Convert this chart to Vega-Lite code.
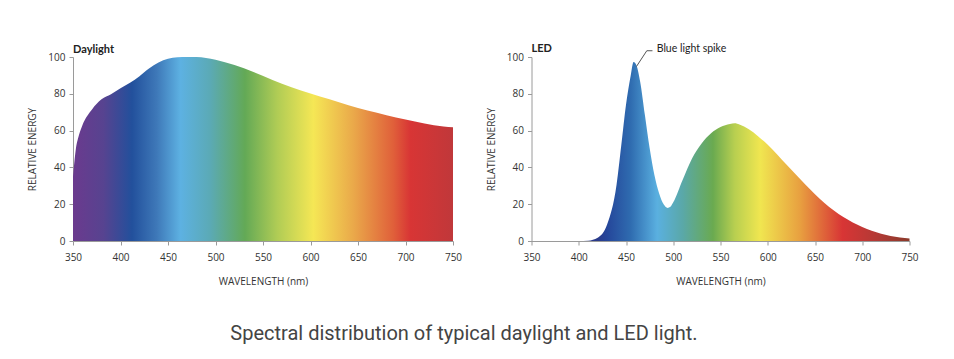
{
  "$schema": "https://vega.github.io/schema/vega-lite/v6.json",
  "background": "white",
  "padding": {"left": 27, "top": 42, "right": 5, "bottom": 5},
  "datasets": {
    "daylight": [
      {"w": 350, "v": 35}, {"w": 353, "v": 50}, {"w": 356, "v": 57}, {"w": 360, "v": 63}, {"w": 370, "v": 71.5},
      {"w": 380, "v": 77}, {"w": 390, "v": 79.8}, {"w": 400, "v": 83}, {"w": 410, "v": 86},
      {"w": 420, "v": 89.6}, {"w": 430, "v": 93.8}, {"w": 440, "v": 97}, {"w": 450, "v": 99},
      {"w": 460, "v": 99.8}, {"w": 470, "v": 100}, {"w": 480, "v": 100}, {"w": 490, "v": 99.5},
      {"w": 500, "v": 98.5}, {"w": 520, "v": 95.6}, {"w": 540, "v": 91.8}, {"w": 560, "v": 87.5},
      {"w": 580, "v": 83.6}, {"w": 600, "v": 80.2}, {"w": 620, "v": 77}, {"w": 640, "v": 73.8},
      {"w": 660, "v": 70.9}, {"w": 680, "v": 68.4}, {"w": 700, "v": 66}, {"w": 720, "v": 63.8},
      {"w": 740, "v": 62.2}, {"w": 750, "v": 61.8}
    ],
    "led": [
      {"w": 350, "v": 0}, {"w": 380, "v": 0}, {"w": 400, "v": 0}, {"w": 410, "v": 0.2},
      {"w": 420, "v": 1.8}, {"w": 430, "v": 9}, {"w": 440, "v": 30.6}, {"w": 445, "v": 52},
      {"w": 450, "v": 74}, {"w": 455, "v": 90}, {"w": 458, "v": 97.3}, {"w": 461, "v": 95.5},
      {"w": 465, "v": 86.5}, {"w": 470, "v": 68.5}, {"w": 475, "v": 50.5}, {"w": 480, "v": 36},
      {"w": 485, "v": 26}, {"w": 490, "v": 19.8}, {"w": 494, "v": 18}, {"w": 497, "v": 18.6},
      {"w": 500, "v": 21}, {"w": 510, "v": 33.3}, {"w": 520, "v": 45}, {"w": 530, "v": 53},
      {"w": 540, "v": 58.6}, {"w": 550, "v": 62}, {"w": 560, "v": 63.6}, {"w": 565, "v": 64},
      {"w": 570, "v": 63.3}, {"w": 580, "v": 60.7}, {"w": 590, "v": 56.8}, {"w": 600, "v": 52.3},
      {"w": 620, "v": 41.4}, {"w": 640, "v": 30.6}, {"w": 660, "v": 20.7}, {"w": 680, "v": 13},
      {"w": 700, "v": 7.6}, {"w": 720, "v": 4}, {"w": 740, "v": 1.9}, {"w": 750, "v": 1.4}
    ],
    "leader": [
      {"w": 461, "v": 94.8}, {"w": 472, "v": 103.4}, {"w": 478, "v": 103.4}
    ],
    "note": [
      {"w": 482.5, "v": 104.3, "label": "Blue light spike"}
    ]
  },
  "spacing": 23.5,
  "hconcat": [
    {
      "width": 380,
      "height": 184,
      "title": {"text": "Daylight", "offset": -3, "anchor": "start", "frame": "group"},
      "data": {"name": "daylight"},
      "mark": {
        "type": "area",
        "interpolate": "monotone",
        "color": {
          "gradient": "linear", "x1": 0, "y1": 0, "x2": 1, "y2": 0,
          "stops": [
            {"offset": 0, "color": "#6b3a8e"},
            {"offset": 0.08, "color": "#574390"},
            {"offset": 0.155, "color": "#22509c"},
            {"offset": 0.22, "color": "#3e78b8"},
            {"offset": 0.2825, "color": "#5db1e2"},
            {"offset": 0.36, "color": "#5baab6"},
            {"offset": 0.4525, "color": "#63a956"},
            {"offset": 0.5375, "color": "#b0cc55"},
            {"offset": 0.6325, "color": "#f5e755"},
            {"offset": 0.7375, "color": "#eaa94a"},
            {"offset": 0.8425, "color": "#e0603a"},
            {"offset": 0.8875, "color": "#d83535"},
            {"offset": 1, "color": "#c0383a"}
          ]
        }
      },
      "encoding": {
        "x": {"field": "w", "type": "quantitative", "scale": {"domain": [350, 750], "nice": false},
              "axis": {"values": [350, 400, 450, 500, 550, 600, 650, 700, 750], "title": "WAVELENGTH (nm)"}},
        "y": {"field": "v", "type": "quantitative", "scale": {"domain": [0, 100], "nice": false},
              "axis": {"values": [0, 20, 40, 60, 80, 100], "title": "RELATIVE ENERGY"}}
      }
    },
    {
      "width": 378,
      "height": 184,
      "title": {"text": "LED", "offset": -9.5, "anchor": "start", "frame": "group"},
      "encoding": {
        "x": {"field": "w", "type": "quantitative", "scale": {"domain": [350, 750], "nice": false},
              "axis": {"values": [350, 400, 450, 500, 550, 600, 650, 700, 750], "title": "WAVELENGTH (nm)"}},
        "y": {"field": "v", "type": "quantitative", "scale": {"domain": [0, 100], "nice": false},
              "axis": {"values": [0, 20, 40, 60, 80, 100], "title": "RELATIVE ENERGY"}}
      },
      "layer": [
        {
          "data": {"name": "led"},
          "mark": {
            "type": "area",
            "interpolate": "monotone",
            "color": {
              "gradient": "linear", "x1": 0, "y1": 0, "x2": 1, "y2": 0,
              "stops": [
                {"offset": 0, "color": "#2a3a8a"},
                {"offset": 0.175, "color": "#2a3a8a"},
                {"offset": 0.2, "color": "#25469a"},
                {"offset": 0.2625, "color": "#2f6cb0"},
                {"offset": 0.3325, "color": "#5ab0e0"},
                {"offset": 0.4, "color": "#5aa8a8"},
                {"offset": 0.48, "color": "#6aaa50"},
                {"offset": 0.5375, "color": "#b8cf50"},
                {"offset": 0.605, "color": "#f0e650"},
                {"offset": 0.71, "color": "#e8a040"},
                {"offset": 0.8225, "color": "#d83535"},
                {"offset": 0.92, "color": "#b03a35"},
                {"offset": 1, "color": "#8a3a2a"}
              ]
            }
          }
        },
        {
          "data": {"name": "leader"},
          "mark": {"type": "line", "color": "#555", "strokeWidth": 1, "clip": false}
        },
        {
          "data": {"name": "note"},
          "mark": {"type": "text", "align": "left", "baseline": "middle", "font": "Lato", "fontSize": 10.5, "color": "#222", "clip": false},
          "encoding": {
            "text": {"field": "label"}
          }
        }
      ]
    }
  ],
  "title": {
    "text": "Spectral distribution of typical daylight and LED light.",
    "orient": "bottom",
    "anchor": "middle",
    "frame": "bounds",
    "font": "Roboto",
    "fontSize": 20,
    "fontWeight": "normal",
    "color": "#444",
    "offset": 37,
    "dx": -9
  },
  "config": {
    "view": {"stroke": null},
    "title": {"font": "Lato", "fontSize": 11, "fontWeight": "bold", "color": "#222"},
    "axis": {
      "grid": false,
      "labelFlush": false,
      "domainColor": "#9a9a9a",
      "tickColor": "#9a9a9a",
      "tickSize": 4,
      "labelColor": "#333",
      "titleColor": "#333",
      "labelFont": "Open Sans",
      "titleFont": "Open Sans",
      "labelFontSize": 10,
      "titleFontSize": 10,
      "titleFontWeight": "normal"
    },
    "axisX": {"titlePadding": 14, "labelPadding": 7.5},
    "axisY": {"titlePadding": 10, "labelPadding": 4}
  }
}
